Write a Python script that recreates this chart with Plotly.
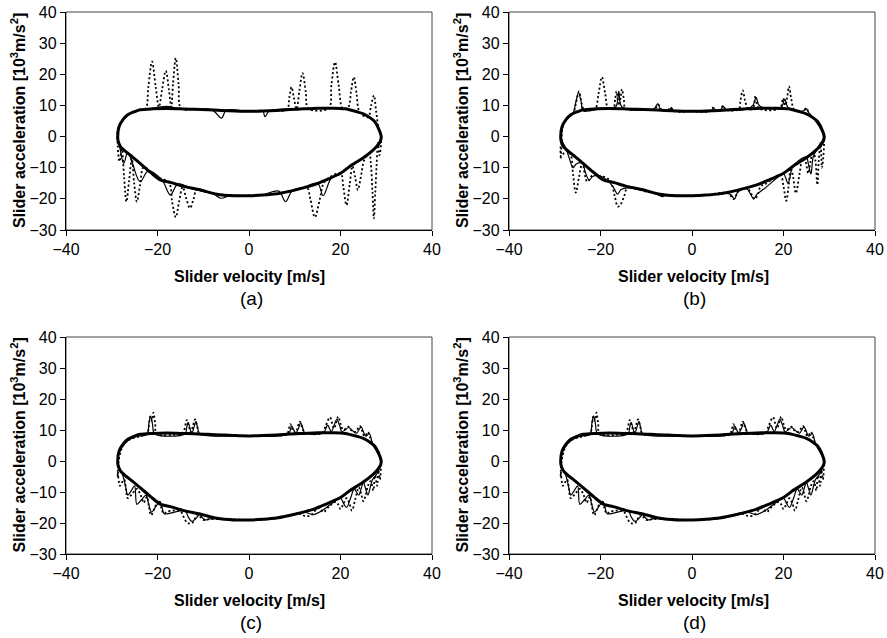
import plotly.graph_objects as go

# ---------------- data ----------------
# common reference loop (thick solid)
base_vel = [-28.7, -28.4, -27.5, -26.5, -25.0, -23.8, -21.0, -18.0, -15.0, -12.0, -9.0, -6.0, -3.0, 0.0,
            3.0, 6.0, 9.0, 12.0, 15.0, 18.0, 21.0, 23.5, 25.0, 26.5, 27.5, 28.3, 28.9,
            28.7, 28.0, 27.0, 25.0, 22.0, 20.0, 17.0, 14.0, 10.0, 6.0, 3.0, 0.0,
            -3.4, -7.0, -10.7, -14.3, -17.0, -19.4, -21.5, -23.8, -25.5, -26.8, -28.1, -28.6, -28.7]
base_acc = [0.0, 3.2, 5.5, 7.0, 8.0, 8.6, 8.9, 9.0, 8.9, 8.8, 8.6, 8.4, 8.2, 8.1,
            8.2, 8.4, 8.7, 8.9, 9.1, 9.1, 8.9, 8.0, 7.3, 6.0, 4.8, 2.6, 0.0,
            -1.5, -3.0, -4.5, -6.8, -9.6, -11.8, -13.8, -15.6, -17.2, -18.4, -18.8, -19.0,
            -19.0, -18.5, -17.1, -16.0, -14.8, -13.9, -11.5, -8.6, -6.5, -5.0, -3.2, -1.5, 0.0]

# (a)
a_dot_vel = [-28.7, -28.6, -27.5, -26.0, -24.0, -22.6, -22.0, -21.2, -20.4, -19.7, -19.0, -18.2, -17.5, -17.0,
             -16.6, -16.0, -15.4, -14.8, -12.0, -6.0, 0.0, 5.0, 8.3, 8.8, 9.3, 9.8, 10.4, 11.0, 11.7, 12.4, 13.0,
             17.4, 18.0, 18.8, 19.6, 20.5, 21.7, 22.3, 22.9, 23.5, 24.2, 26.0, 26.7, 27.3, 27.8, 28.3, 28.9,
             28.5, 28.2, 27.9, 27.6, 27.3, 27.0, 26.6, 26.3, 25.2, 24.5, 23.8, 23.2, 22.6, 22.0, 21.3, 20.6, 20.0,
             16.5, 15.5, 14.4, 13.4, 12.6, 10.0, 5.0, 0.0, -5.0, -10.0, -11.4, -12.2, -12.9, -13.7, -14.5,
             -15.3, -16.0, -16.8, -17.5, -20.5, -23.0, -23.8, -24.5, -25.1, -25.6, -26.2, -26.8, -27.3, -27.8,
             -28.3, -28.7]
a_dot_acc = [-3.0, 2.5, 5.5, 7.5, 8.5, 9.0, 16.0, 24.1, 16.0, 9.5, 15.0, 21.1, 15.0, 9.5,
             17.0, 25.2, 17.0, 9.0, 8.8, 8.4, 8.1, 8.3, 8.7, 12.5, 15.9, 12.5, 8.8, 14.5, 20.4, 14.5, 9.0,
             9.1, 16.5, 23.9, 16.5, 9.0, 9.5, 14.5, 19.1, 14.0, 7.8, 6.2, 10.0, 13.2, 8.0, 3.0, 0.0,
             -6.0, -2.0, -9.0, -18.0, -26.3, -18.0, -8.0, -5.5, -7.5, -12.5, -17.1, -13.0, -9.5, -15.5, -22.0, -16.0, -11.8,
             -14.6, -20.0, -25.9, -20.0, -16.2, -17.2, -18.4, -19.0, -18.8, -17.6, -17.0, -20.5, -23.0, -20.0, -16.2,
             -21.0, -25.9, -21.0, -14.8, -12.8, -9.8, -15.5, -20.9, -15.0, -7.0, -14.0, -20.9, -13.0, -4.0,
             -8.0, -3.0]
a_sol_vel = [-28.7, -28.0, -26.0, -22.0, -18.0, -15.0, -8.0, -6.0, -5.0, 0.0, 3.0, 3.5, 4.5, 10.0, 15.0, 20.0, 24.0, 27.0, 28.9,
             28.5, 27.0, 25.0, 22.0, 20.0, 18.0, 16.2, 15.0, 12.0, 9.5, 8.0, 6.5, 3.0, 0.0, -4.0, -6.2, -8.0, -12.0,
             -15.5, -17.2, -19.0, -22.0, -23.8, -25.5, -26.5, -27.4, -28.3, -28.7]
a_sol_acc = [0.0, 4.5, 7.6, 8.8, 9.7, 8.9, 8.5, 5.9, 8.4, 8.1, 8.2, 6.4, 8.3, 8.8, 9.1, 9.0, 7.8, 5.3, 0.0,
             -2.5, -4.5, -6.8, -9.6, -11.8, -13.3, -19.0, -15.0, -16.3, -17.3, -20.9, -17.5, -18.7, -19.0, -18.9, -19.8, -18.2, -17.0,
             -15.2, -18.7, -14.0, -11.0, -14.5, -8.5, -5.0, -8.6, -3.0, 0.0]

# (b)
b_dot_vel = [-28.7, -28.5, -28.3, -27.3, -26.0, -25.4, -24.7, -24.1, -23.5, -22.0, -21.1, -20.4, -19.7, -19.0, -18.3,
             -17.2, -16.8, -16.5, -16.2, -15.9, -15.6, -15.3, -14.9, -14.5, -10.0, -8.2, -7.4, -6.6, -5.4, -4.7, -4.0,
             0.0, 4.0, 4.6, 5.2, 6.2, 6.8, 7.4, 10.2, 10.6, 11.1, 11.6, 12.3, 13.3, 13.9, 14.6, 19.2, 19.9, 20.4,
             20.8, 21.2, 21.7, 22.4, 24.3, 25.0, 25.7, 26.5, 28.0, 28.8,
             28.4, 28.1, 27.7, 27.4, 27.0, 26.5, 25.9, 25.4, 24.8, 24.2, 23.5, 22.7, 22.1, 21.6, 21.1, 20.6, 20.0,
             19.3, 16.0, 15.0, 14.4, 13.7, 13.0, 12.0, 10.5, 9.8, 9.0, 8.2, 7.0, 3.0, 0.0, -5.0, -10.0, -14.0,
             -14.8, -15.5, -16.2, -16.9, -18.0, -20.5, -21.8, -22.9, -24.0, -24.7, -25.4, -26.0, -26.5, -27.5,
             -28.6, -28.7]
b_dot_acc = [-7.0, -2.0, 3.0, 6.0, 7.3, 10.5, 14.5, 10.5, 8.3, 8.6, 9.0, 14.0, 19.1, 14.0, 9.0,
             9.0, 12.0, 14.5, 11.5, 10.0, 12.5, 15.2, 12.0, 9.0, 8.7, 8.7, 10.3, 8.5, 8.4, 9.3, 8.2,
             8.1, 8.2, 9.3, 8.3, 8.4, 10.0, 8.6, 8.8, 11.5, 14.8, 11.5, 8.9, 9.0, 13.1, 9.1, 9.1, 12.3, 10.0,
             12.5, 16.1, 12.0, 8.5, 8.2, 9.1, 7.0, 6.0, 3.0, 0.0,
             -10.0, -2.0, -8.0, -15.5, -8.0, -4.5, -8.0, -11.8, -8.0, -7.0, -12.0, -18.2, -13.0, -10.0, -16.0, -20.6, -16.0,
             -12.3, -15.3, -16.0, -18.5, -20.1, -18.5, -16.5, -17.0, -18.5, -20.1, -18.5, -18.0, -18.8, -19.0, -18.8, -17.7, -16.2,
             -19.0, -21.5, -22.5, -19.0, -14.0, -12.5, -12.5, -14.5, -8.5, -13.0, -18.0, -12.0, -6.0, -4.5,
             -6.4, -3.0]
b_sol_vel = [-28.7, -28.0, -26.0, -25.4, -24.8, -24.2, -23.8, -20.0, -16.7, -16.0, -15.3, -9.0, -8.2, -7.5, -6.8, -5.0,
             -4.5, -4.0, 0.0, 4.2, 4.7, 5.2, 6.2, 6.8, 7.4, 12.0, 13.3, 14.0, 14.8, 19.0, 19.7, 20.3, 21.0, 24.0,
             24.6, 25.0, 25.6, 26.5, 28.8,
             27.5, 26.5, 26.0, 25.4, 25.0, 22.0, 21.5, 21.0, 20.4, 20.0, 16.0, 14.2, 13.5, 12.8, 12.0, 10.0, 9.3, 8.5,
             7.5, 3.0, -3.0, -5.7, -6.5, -7.3, -8.5, -14.0, -15.5, -16.3, -17.1, -18.5, -20.5, -21.7, -22.5, -23.3,
             -24.0, -25.3, -26.0, -26.7, -27.5, -28.7]
b_sol_acc = [0.0, 4.5, 7.5, 11.0, 14.0, 11.0, 8.3, 8.9, 9.5, 14.5, 9.5, 8.6, 9.0, 10.5, 8.7, 8.4,
             9.3, 8.3, 8.1, 8.2, 9.3, 8.3, 8.4, 9.8, 8.6, 8.9, 10.0, 12.5, 9.8, 9.0, 9.8, 12.0, 9.3, 8.0,
             8.5, 9.0, 7.5, 6.0, 0.0,
             -3.5, -6.5, -12.0, -8.5, -6.5, -9.6, -12.5, -15.0, -13.0, -12.0, -16.5, -18.5, -20.0, -18.5, -16.8, -17.8, -20.0, -18.7,
             -18.0, -18.8, -19.0, -18.8, -19.3, -18.8, -18.2, -16.5, -17.0, -18.5, -16.5, -14.0, -12.5, -12.8, -14.0, -11.5,
             -8.5, -8.8, -10.0, -7.5, -4.0, 0.0]

# (c)
c_dot_vel = [-28.7, -28.5, -27.5, -26.0, -23.0, -22.2, -21.6, -21.2, -20.9, -20.5, -20.2, -15.0, -14.3, -13.6, -13.1,
             -12.7, -12.3, -11.8, -11.3, -10.8, -5.0, 0.0, 5.0, 8.3, 9.0, 9.6, 10.2, 11.1, 11.8, 12.4, 16.0, 16.8,
             17.7, 18.2, 18.6, 19.0, 19.5, 20.0, 20.6, 21.2, 21.7, 22.3, 23.0, 23.6, 24.2, 24.8, 25.2, 25.6, 26.0,
             26.5, 27.0, 28.3, 28.8,
             28.6, 28.3, 28.0, 27.5, 27.2, 26.6, 26.0, 25.5, 25.0, 24.5, 24.0, 23.2, 22.5, 21.9, 21.3, 20.6, 20.0,
             19.5, 19.0, 17.6, 16.3, 15.6, 15.0, 14.2, 13.5, 12.3, 11.0, 6.0, 0.0, -6.0, -9.0, -10.0, -10.7,
             -11.3, -11.9, -12.4, -13.0, -13.6, -14.3, -15.0, -17.8, -18.6, -19.2, -19.8, -20.6, -21.4, -21.9,
             -22.3, -22.7, -23.0, -23.7, -24.5, -25.5, -26.5, -26.9, -27.3, -27.8, -28.2, -28.7]
c_dot_acc = [-5.0, 0.0, 5.0, 7.0, 8.3, 9.0, 14.3, 13.0, 15.6, 12.0, 8.8, 8.8, 9.5, 13.2, 11.0,
             9.3, 11.0, 13.4, 11.0, 8.8, 8.4, 8.1, 8.3, 8.7, 11.9, 10.0, 9.2, 12.7, 10.0, 9.0, 9.1, 11.5,
             14.1, 12.0, 10.5, 12.0, 14.3, 12.0, 10.0, 10.5, 11.1, 10.0, 9.3, 10.0, 11.3, 9.5, 8.0, 8.5, 9.4,
             7.5, 5.5, 3.0, 0.0,
             -6.0, -3.0, -8.0, -4.0, -9.5, -6.5, -8.0, -11.0, -13.0, -10.5, -8.5, -12.5, -16.0, -13.5, -12.0, -14.0, -15.5,
             -14.0, -13.2, -14.5, -16.5, -15.5, -15.2, -16.5, -17.5, -17.8, -17.0, -18.5, -19.0, -18.7, -18.8, -19.0, -18.0,
             -17.3, -18.8, -20.0, -20.2, -19.8, -18.0, -16.2, -16.3, -17.0, -15.0, -12.8, -15.0, -17.5, -14.5,
             -11.5, -12.5, -13.5, -11.0, -9.0, -10.5, -12.0, -9.0, -6.0, -7.0, -8.0, -3.0]
c_sol_vel = [-28.7, -27.5, -25.0, -22.3, -21.9, -21.5, -21.1, -20.6, -14.0, -13.6, -13.3, -12.9, -12.5, -12.0, -11.6,
             -11.2, -10.8, 0.0, 8.6, 9.3, 9.8, 10.2, 10.8, 11.3, 11.8, 12.2, 16.3, 16.8, 17.2, 17.6, 18.0, 18.6, 19.2,
             19.8, 20.3, 21.0, 21.8, 22.6, 23.5, 24.0, 24.5, 25.0, 25.5, 26.3, 27.0, 28.8,
             28.0, 27.0, 26.5, 26.0, 25.5, 25.0, 24.5, 24.0, 23.5, 23.0, 22.2, 21.3, 20.6, 20.0, 18.0, 16.0, 14.0, 12.0,
             6.0, 0.0, -8.0, -9.5, -10.2, -10.8, -11.6, -12.5, -13.3, -14.0, -18.5, -19.0, -19.5, -20.4, -21.3, -22.0,
             -22.5, -23.5, -24.5, -25.0, -25.7, -26.5, -27.0, -27.5, -28.7]
c_sol_acc = [0.0, 5.0, 7.8, 8.6, 12.0, 14.5, 12.0, 8.8, 8.8, 11.0, 12.5, 10.5, 9.0, 11.0, 12.8,
             10.5, 8.8, 8.1, 8.7, 11.3, 10.0, 8.9, 10.5, 12.2, 10.5, 9.0, 9.1, 10.5, 11.6, 10.5, 9.5, 11.5, 13.4,
             11.5, 9.5, 10.0, 10.8, 9.8, 9.0, 10.0, 11.0, 9.5, 8.0, 8.8, 5.5, 0.0,
             -4.0, -6.0, -8.5, -11.0, -9.0, -7.0, -9.0, -11.0, -10.0, -9.0, -12.0, -15.0, -13.5, -12.0, -13.8, -16.0, -17.3, -16.5,
             -18.5, -19.0, -18.5, -19.0, -18.3, -17.3, -18.5, -19.5, -18.0, -16.0, -17.0, -15.0, -13.0, -14.8, -16.5, -13.5,
             -11.0, -12.5, -14.0, -8.0, -9.5, -11.0, -8.0, -5.0, 0.0]

# (d) — visually the same response as (c)
d_dot_vel = list(c_dot_vel)
d_dot_acc = list(c_dot_acc)
d_sol_vel = list(c_sol_vel)
d_sol_acc = list(c_sol_acc)

panel_labels = ["(a)", "(b)", "(c)", "(d)"]
x_ticks = [-40, -20, 0, 20, 40]
y_ticks = [-30, -20, -10, 0, 10, 20, 30, 40]

panels = [
    (a_dot_vel, a_dot_acc, a_sol_vel, a_sol_acc),
    (b_dot_vel, b_dot_acc, b_sol_vel, b_sol_acc),
    (c_dot_vel, c_dot_acc, c_sol_vel, c_sol_acc),
    (d_dot_vel, d_dot_acc, d_sol_vel, d_sol_acc),
]

# ---------------- layout geometry ----------------
W, H = 887, 638
x_doms = [[66 / W, 432 / W], [509 / W, 875 / W]]
y_doms = [[1 - 230 / H, 1 - 12 / H], [1 - 554 / H, 1 - 337 / H]]

FONT = "Liberation Sans, Arial, sans-serif"

fig = go.Figure()
annotations = []
shapes = []
for i, (dv, da, sv, sa) in enumerate(panels):
    row, col = divmod(i, 2)
    n = "" if i == 0 else str(i + 1)
    xa, ya = "x" + n, "y" + n
    # dotted response
    fig.add_trace(go.Scatter(x=dv, y=da, mode="lines", xaxis=xa, yaxis=ya,
                             line=dict(color="black", width=1.8, dash="2px,2.4px", shape="spline", smoothing=1.0),
                             showlegend=False, hoverinfo="skip"))
    # thin solid response
    fig.add_trace(go.Scatter(x=sv, y=sa, mode="lines", xaxis=xa, yaxis=ya,
                             line=dict(color="black", width=1.2, shape="spline", smoothing=1.0),
                             showlegend=False, hoverinfo="skip"))
    # thick reference loop
    fig.add_trace(go.Scatter(x=base_vel, y=base_acc, mode="lines", xaxis=xa, yaxis=ya,
                             line=dict(color="black", width=3.0, shape="spline", smoothing=0.8),
                             showlegend=False, hoverinfo="skip"))

    axis_common = dict(showgrid=False, zeroline=False, showline=True, linecolor="black", linewidth=1.4,
                       ticks="outside", ticklen=5, tickwidth=1.2, tickcolor="black", automargin=False,
                       tickfont=dict(family=FONT, size=16, color="black"))
    fig.update_layout(**{
        ("xaxis" + n): dict(domain=x_doms[col], anchor=ya, range=[-40, 40], tickvals=x_ticks, **axis_common),
        ("yaxis" + n): dict(domain=y_doms[row], anchor=xa, range=[-30, 40], tickvals=y_ticks, **axis_common),
    })
    # thin box on top / right
    shapes.append(dict(type="rect", xref=xa + " domain", yref=ya + " domain", x0=0, x1=1, y0=0, y1=1,
                       line=dict(color="#444", width=1), layer="below"))

    x0p, x1p = x_doms[col][0] * W, x_doms[col][1] * W
    ytop = (1 - y_doms[row][1]) * H
    ybot = (1 - y_doms[row][0]) * H
    xc = (x0p + x1p) / 2
    # y title
    annotations.append(dict(text="<b>Slider acceleration [10<sup>3</sup>m/s<sup>2</sup>]</b>",
                            xref="paper", yref="paper", x=(x0p - 48) / W, y=1 - (ytop + ybot) / 2 / H,
                            textangle=-90, showarrow=False, xanchor="center", yanchor="middle",
                            font=dict(family=FONT, size=16, color="black")))
    # x title
    annotations.append(dict(text="<b>Slider velocity [m/s]</b>", xref="paper", yref="paper",
                            x=(xc + 1) / W, y=1 - (ybot + 46) / H, showarrow=False,
                            xanchor="center", yanchor="middle", font=dict(family=FONT, size=16, color="black")))
    # panel label
    annotations.append(dict(text=panel_labels[i], xref="paper", yref="paper",
                            x=(xc + 2) / W, y=1 - (ybot + 68) / H, showarrow=False,
                            xanchor="center", yanchor="middle", font=dict(family=FONT, size=19, color="black")))

fig.update_layout(width=W, height=H, margin=dict(l=0, r=0, t=0, b=0),
                  paper_bgcolor="white", plot_bgcolor="white",
                  annotations=annotations, shapes=shapes, showlegend=False)

fig.write_html("out.html")
